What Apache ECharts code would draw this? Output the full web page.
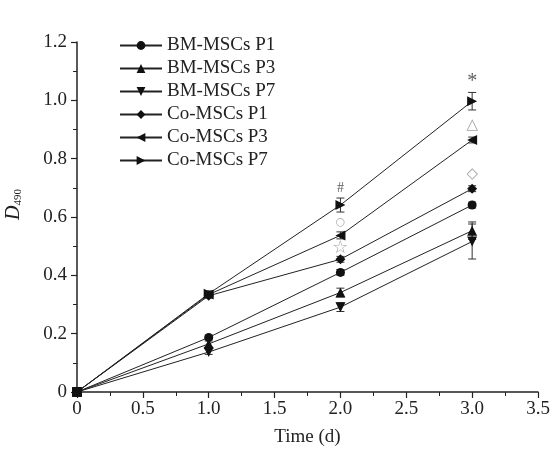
<!DOCTYPE html>
<html>
<head>
<meta charset="utf-8">
<script src="https://cdn.jsdelivr.net/npm/echarts@6/dist/echarts.min.js"></script>
<style>
  html, body { margin: 0; padding: 0; background: #fff; }
  #grafico { width: 555px; height: 450px; }
</style>
</head>
<body>
<div id="grafico"></div>
<script>
// tiempos (d)
const tiempos = [0, 1, 2, 3];

const nombres = ['BM-MSCs P1', 'BM-MSCs P3', 'BM-MSCs P7', 'Co-MSCs P1', 'Co-MSCs P3', 'Co-MSCs P7'];

// D490 medias
const bmP1 = [0, 0.187, 0.410, 0.641];
const bmP3 = [0, 0.165, 0.341, 0.553];
const bmP7 = [0, 0.137, 0.291, 0.516];
const coP1 = [0, 0.330, 0.455, 0.697];
const coP3 = [0, 0.334, 0.537, 0.864];
const coP7 = [0, 0.337, 0.641, 0.997];

// desviaciones
const errBmP1 = [0, 0.005, 0.010, 0.010];
const errBmP3 = [0, 0.010, 0.015, 0.030];
const errBmP7 = [0, 0.008, 0.015, 0.060];
const errCoP1 = [0, 0.008, 0.010, 0.010];
const errCoP3 = [0, 0.010, 0.012, 0.010];
const errCoP7 = [0, 0.010, 0.024, 0.030];

// marcas de significancia
const marcaTexto = ['#', '○', '☆', '*', '△', '◇'];
const marcaX = [2, 2, 2, 3, 3, 3];
const marcaY = [0.698, 0.584, 0.493, 1.063, 0.914, 0.747];

const fuente = '"Liberation Serif", "Times New Roman", serif';

const medias = [bmP1, bmP3, bmP7, coP1, coP3, coP7];
const errores = [errBmP1, errBmP3, errBmP7, errCoP1, errCoP3, errCoP7];
const simbolos = ['circle', 'triangle', 'triangle', 'diamond', 'triangle', 'triangle'];
const rotaciones = [0, 0, 180, 0, 90, -90];
const tamanos = [9, 10, 10, 10, 10, 10];

const series = medias.map((valores, i) => ({
    name: nombres[i],
    type: 'line',
    data: tiempos.map((t, j) => [t, valores[j]]),
    symbol: simbolos[i],
    symbolRotate: rotaciones[i],
    symbolSize: tamanos[i],
    showAllSymbol: true,
    itemStyle: { color: '#111' },
    lineStyle: { color: '#222', width: 1 },
    z: 3
}));

// barras de error
const datosError = [];
medias.forEach((valores, i) => {
    tiempos.forEach((t, j) => {
        if (errores[i][j] > 0) {
            datosError.push([t, valores[j] - errores[i][j], valores[j] + errores[i][j]]);
        }
    });
});

series.push({
    type: 'custom',
    name: 'error',
    data: datosError,
    z: 2,
    renderItem: function (params, api) {
        const x = api.value(0);
        const bajo = api.coord([x, api.value(1)]);
        const alto = api.coord([x, api.value(2)]);
        const w = 4;
        const estilo = { stroke: '#333', lineWidth: 1 };
        return {
            type: 'group',
            children: [
                { type: 'line', shape: { x1: bajo[0], y1: bajo[1], x2: alto[0], y2: alto[1] }, style: estilo },
                { type: 'line', shape: { x1: bajo[0] - w, y1: bajo[1], x2: bajo[0] + w, y2: bajo[1] }, style: estilo },
                { type: 'line', shape: { x1: alto[0] - w, y1: alto[1], x2: alto[0] + w, y2: alto[1] }, style: estilo }
            ]
        };
    }
});

series.push({
    type: 'scatter',
    name: 'marcas',
    symbolSize: 0,
    data: marcaTexto.map((m, i) => ({
        value: [marcaX[i], marcaY[i]],
        label: {
            show: true,
            position: 'inside',
            formatter: m,
            fontFamily: m === '*' || m === '#' ? fuente : '"DejaVu Sans", sans-serif',
            fontSize: m === '*' ? 20 : (m === '#' ? 14 : (m === '○' ? 11 : (m === '☆' ? 18 : 15))),
            color: m === '*' || m === '#' ? '#333' : '#888'
        }
    })),
    z: 4
});

const chart = echarts.init(document.getElementById('grafico'));

chart.setOption({
    backgroundColor: '#fff',
    animation: false,
    textStyle: { fontFamily: fuente },
    grid: { left: 77, right: 17, top: 42, bottom: 58, outerBoundsMode: 'none', containLabel: false },
    legend: {
        data: nombres,
        orient: 'vertical',
        left: 114,
        top: 31,
        itemWidth: 42,
        itemHeight: 11,
        itemGap: 4,
        textStyle: { fontFamily: fuente, fontSize: 19, color: '#222' }
    },
    xAxis: {
        type: 'value',
        min: 0,
        max: 3.5,
        interval: 0.5,
        name: 'Time (d)',
        nameLocation: 'middle',
        nameGap: 36,
        nameTextStyle: { fontFamily: fuente, fontSize: 19, color: '#222' },
        axisLine: { onZero: false, lineStyle: { color: '#222', width: 1.5 } },
        axisTick: { show: true, inside: false, length: 6, lineStyle: { color: '#222', width: 1.2 } },
        minorTick: { show: true, splitNumber: 2, length: 4, lineStyle: { color: '#222', width: 1 } },
        axisLabel: {
            fontFamily: fuente, fontSize: 19, color: '#222', margin: 8,
            formatter: v => v === 0 ? '0' : v.toFixed(1)
        },
        splitLine: { show: false }
    },
    yAxis: {
        type: 'value',
        min: 0,
        max: 1.2,
        interval: 0.2,
        name: '{i|D}{s|490}',
        nameLocation: 'middle',
        nameGap: 53,
        nameTextStyle: {
            padding: [0, 0, 0, 25],
            rich: {
                i: { fontFamily: fuente, fontStyle: 'italic', fontSize: 20, color: '#222' },
                s: { fontFamily: fuente, fontSize: 11, color: '#222', padding: [9, 0, 0, 0] }
            }
        },
        axisLine: { lineStyle: { color: '#222', width: 1.5 } },
        axisTick: { show: true, inside: false, length: 6, lineStyle: { color: '#222', width: 1.2 } },
        minorTick: { show: true, splitNumber: 2, length: 4, lineStyle: { color: '#222', width: 1 } },
        axisLabel: {
            fontFamily: fuente, fontSize: 19, color: '#222', margin: 10,
            formatter: v => v === 0 ? '0' : v.toFixed(1)
        },
        splitLine: { show: false }
    },
    series: series
});
</script>
</body>
</html>
